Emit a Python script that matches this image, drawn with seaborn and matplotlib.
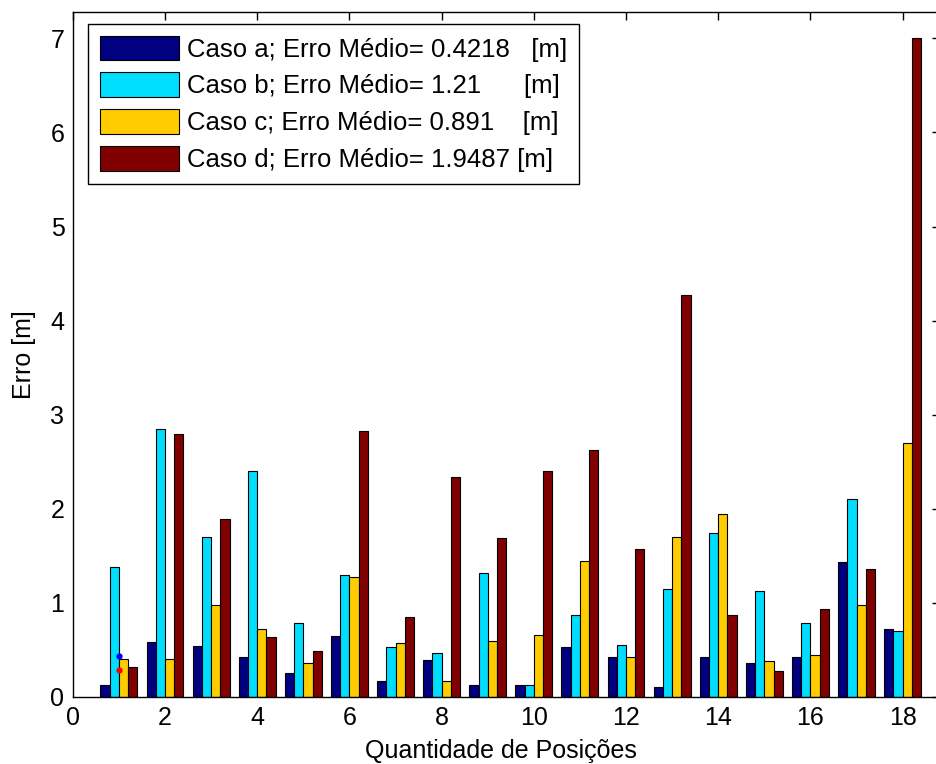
import pandas as pd
import seaborn as sns
import matplotlib.pyplot as plt

# valores
posicoes = [1, 2, 3, 4, 5, 6, 7, 8, 9, 10, 11, 12, 13, 14, 15, 16, 17, 18]
caso_a = [0.13, 0.58, 0.54, 0.43, 0.26, 0.645, 0.17, 0.39, 0.13, 0.13,
          0.535, 0.43, 0.11, 0.43, 0.365, 0.43, 1.43, 0.725]
caso_b = [1.385, 2.85, 1.705, 2.405, 0.79, 1.30, 0.535, 0.47, 1.32, 0.13,
          0.875, 0.555, 1.15, 1.745, 1.13, 0.79, 2.105, 0.705]
caso_c = [0.405, 0.405, 0.98, 0.725, 0.365, 1.28, 0.575, 0.175, 0.60, 0.66,
          1.45, 0.43, 1.705, 1.94, 0.385, 0.45, 0.98, 2.70]
caso_d = [0.32, 2.79, 1.895, 0.64, 0.49, 2.83, 0.855, 2.34, 1.685, 2.405,
          2.62, 1.575, 4.275, 0.875, 0.28, 0.94, 1.365, 7.0]

casos = ['a', 'b', 'c', 'd']
medias = ['0.4218', '1.21', '0.891', '1.9487']
espacos = ['   ', '      ', '    ', ' ']
cores = ['#000080', '#00DDFF', '#FFCC00', '#800000']

# pontos marcados sobre a primeira posicao
pontos_x = [1.0, 1.0]
pontos_y = [0.44, 0.29]
cores_pontos = ['#0000FF', '#FF0000']

rotulos = [f'Caso {c}; Erro Médio= {m}{e}[m]' for c, m, e in zip(casos, medias, espacos)]

df = pd.DataFrame({
    'posicao': posicoes * 4,
    'erro': caso_a + caso_b + caso_c + caso_d,
    'caso': [r for r in rotulos for _ in posicoes],
})

sns.set_style('white')
plt.rcParams['font.family'] = ['Liberation Sans', 'DejaVu Sans']
plt.rcParams['font.size'] = 18
plt.rcParams['text.color'] = 'black'
plt.rcParams['axes.labelcolor'] = 'black'

fig = plt.figure(figsize=(9.37, 7.64), dpi=100)
ax = fig.add_axes([0.0777, 0.0877, 0.9255, 0.8966])

sns.barplot(data=df, x='posicao', y='erro', hue='caso', palette=cores,
            native_scale=True, saturation=1, errorbar=None,
            edgecolor='black', linewidth=0.8, ax=ax)

for px, py, pc in zip(pontos_x, pontos_y, cores_pontos):
    ax.plot(px, py, marker='.', color=pc, markersize=7, zorder=5)

ax.set_xlim(0, 18.81)
ax.set_ylim(0, 7.28)
ax.set_xticks(range(0, 19, 2))
ax.set_xticklabels([str(t) for t in range(0, 19, 2)])
ax.set_yticks(range(0, 8))
ax.set_yticklabels([str(t) for t in range(0, 8)])
ax.tick_params(direction='in', length=6, width=1, top=True, right=True,
               labelsize=18, colors='black')
ax.tick_params(axis='x', pad=6.5)
ax.tick_params(axis='y', pad=6)
for s in ax.spines.values():
    s.set_color('black')
    s.set_linewidth(1)

ax.set_xlabel('Quantidade de Posições', fontsize=18, color='black')
ax.set_ylabel('Erro [m]', fontsize=18, color='black')
ax.xaxis.set_label_coords(0.494, -0.0608)
ax.yaxis.set_label_coords(-0.0424, 0.5)

handles, labels = ax.get_legend_handles_labels()
leg = ax.legend(handles, labels, loc='upper left', bbox_to_anchor=(0.0175, 0.9825),
                borderaxespad=0, frameon=True, fancybox=False, edgecolor='black',
                framealpha=1, handlelength=3.1, handleheight=1.1, handletextpad=0.3,
                labelspacing=0.42, borderpad=0.45, fontsize=18.5, labelcolor='black')
leg.get_frame().set_linewidth(1)
for h in leg.legend_handles:
    h.set_edgecolor('black')
    h.set_linewidth(0.8)

fig.savefig('out.png', dpi=100)
